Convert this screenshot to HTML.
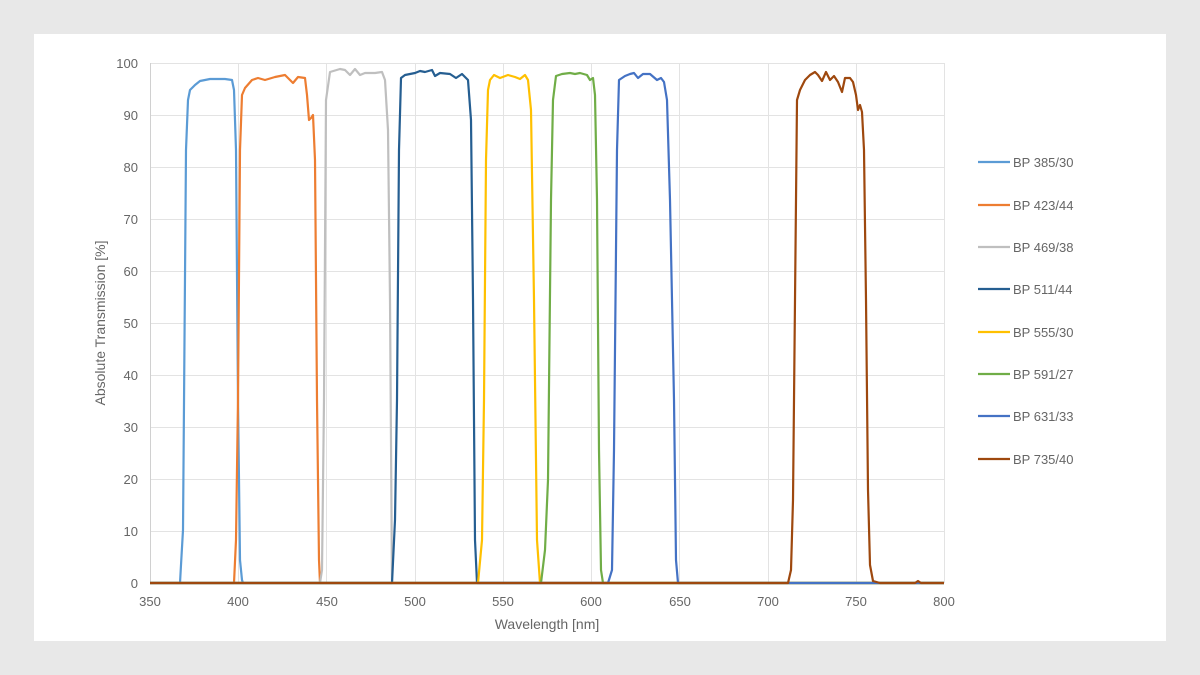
<!DOCTYPE html>
<html><head><style>
body{margin:0;background:#e8e8e8;}
.p{position:absolute;left:34px;top:34px;width:1132px;height:607px;background:#fff;}
text{font-family:"Liberation Sans",sans-serif;fill:#666;font-size:13px;}
</style></head><body>
<div class="p"></div>
<svg width="1200" height="675" style="position:absolute;left:0;top:0">
<g stroke="#e3e3e3" stroke-width="1">
<line x1="150" x2="944" y1="63.5" y2="63.5"/><line x1="150" x2="944" y1="115.5" y2="115.5"/><line x1="150" x2="944" y1="167.5" y2="167.5"/><line x1="150" x2="944" y1="219.5" y2="219.5"/><line x1="150" x2="944" y1="271.5" y2="271.5"/><line x1="150" x2="944" y1="323.5" y2="323.5"/><line x1="150" x2="944" y1="375.5" y2="375.5"/><line x1="150" x2="944" y1="427.5" y2="427.5"/><line x1="150" x2="944" y1="479.5" y2="479.5"/><line x1="150" x2="944" y1="531.5" y2="531.5"/>
<line y1="63" y2="583" x1="238.5" x2="238.5"/><line y1="63" y2="583" x1="326.5" x2="326.5"/><line y1="63" y2="583" x1="415.5" x2="415.5"/><line y1="63" y2="583" x1="503.5" x2="503.5"/><line y1="63" y2="583" x1="591.5" x2="591.5"/><line y1="63" y2="583" x1="679.5" x2="679.5"/><line y1="63" y2="583" x1="768.5" x2="768.5"/><line y1="63" y2="583" x1="856.5" x2="856.5"/><line y1="63" y2="583" x1="944.5" x2="944.5"/>
</g>
<line x1="150.5" x2="150.5" y1="63" y2="583" stroke="#d0d0d0"/>
<line x1="150" x2="944" y1="583.5" y2="583.5" stroke="#bbb"/>
<g text-anchor="end">
<text x="138" y="68">100</text><text x="138" y="120">90</text><text x="138" y="172">80</text><text x="138" y="224">70</text><text x="138" y="276">60</text><text x="138" y="328">50</text><text x="138" y="380">40</text><text x="138" y="432">30</text><text x="138" y="484">20</text><text x="138" y="536">10</text><text x="138" y="588">0</text>
</g>
<g text-anchor="middle">
<text x="150" y="606">350</text><text x="238" y="606">400</text><text x="327" y="606">450</text><text x="415" y="606">500</text><text x="503" y="606">550</text><text x="591" y="606">600</text><text x="680" y="606">650</text><text x="768" y="606">700</text><text x="856" y="606">750</text><text x="944" y="606">800</text>
<text x="547" y="629" style="font-size:14px">Wavelength [nm]</text>
<text transform="translate(105,323) rotate(-90)" style="font-size:14px">Absolute Transmission [%]</text>
</g>
<g fill="none" stroke-width="2.2" stroke-linejoin="round">
<polyline stroke="#5b9bd5" points="150,583 180,583 181,565 183,530 186,150 188,100 190,90 195,85 200,81 210,79 225,79 232,80 234,90 236,150 238,400 240,560 242,580 243,583 944,583"/>
<polyline stroke="#ed7d31" points="150,583 234,583 236,540 238,400 240,150 242,95 245,88 252,80 258,78 265,80 275,77 285,75 290,80 293,83 298,77 305,78 307,95 309,120 311,118 313,115 315,160 317,400 319,560 320,583 944,583"/>
<polyline stroke="#bfbfbf" points="150,583 320,583 322,570 324,400 326,100 330,72 340,69 345,70 350,75 355,69 360,75 365,73 375,73 382,72 385,80 388,130 390,300 392,583 944,583"/>
<polyline stroke="#255e91" points="150,583 392,583 395,520 397,400 399,150 401,78 405,75 415,73 420,71 425,72 432,70 435,76 440,73 450,74 456,78 462,74 468,80 471,120 473,300 475,540 477,583 944,583"/>
<polyline stroke="#ffc000" points="150,583 478,583 482,540 484,400 486,160 488,90 490,80 494,75 500,78 508,75 515,77 520,79 525,75 528,80 531,110 534,300 537,540 540,583 944,583"/>
<polyline stroke="#70ad47" points="150,583 541,583 545,550 548,480 551,200 553,100 556,76 562,74 570,73 575,74 580,73 587,75 590,80 593,78 595,95 597,200 599,450 601,570 603,583 944,583"/>
<polyline stroke="#4472c4" points="150,583 608,583 612,570 614,450 617,150 619,80 625,76 630,74 634,73 638,78 643,74 650,74 657,80 661,78 664,82 667,100 670,200 674,400 676,560 678,583 944,583"/>
<polyline stroke="#9e480e" points="150,583 788,583 791,570 793,500 795,300 797,100 800,90 805,80 810,75 815,72 818,75 822,81 826,72 830,80 834,76 838,82 842,92 845,78 850,78 853,82 856,95 858,110 860,105 862,112 864,150 866,300 868,490 870,565 873,581 880,583 915,583 918,581 921,583 944,583"/>
</g>
<g stroke-width="2.2">
<line x1="978" x2="1010" y1="162" y2="162" stroke="#5b9bd5"/>
<line x1="978" x2="1010" y1="205" y2="205" stroke="#ed7d31"/>
<line x1="978" x2="1010" y1="247" y2="247" stroke="#bfbfbf"/>
<line x1="978" x2="1010" y1="289" y2="289" stroke="#255e91"/>
<line x1="978" x2="1010" y1="332" y2="332" stroke="#ffc000"/>
<line x1="978" x2="1010" y1="374" y2="374" stroke="#70ad47"/>
<line x1="978" x2="1010" y1="416" y2="416" stroke="#4472c4"/>
<line x1="978" x2="1010" y1="459" y2="459" stroke="#9e480e"/>
</g>
<g>
<text x="1013" y="167">BP 385/30</text><text x="1013" y="210">BP 423/44</text><text x="1013" y="252">BP 469/38</text><text x="1013" y="294">BP 511/44</text><text x="1013" y="337">BP 555/30</text><text x="1013" y="379">BP 591/27</text><text x="1013" y="421">BP 631/33</text><text x="1013" y="464">BP 735/40</text>
</g>
</svg>
</body></html>
